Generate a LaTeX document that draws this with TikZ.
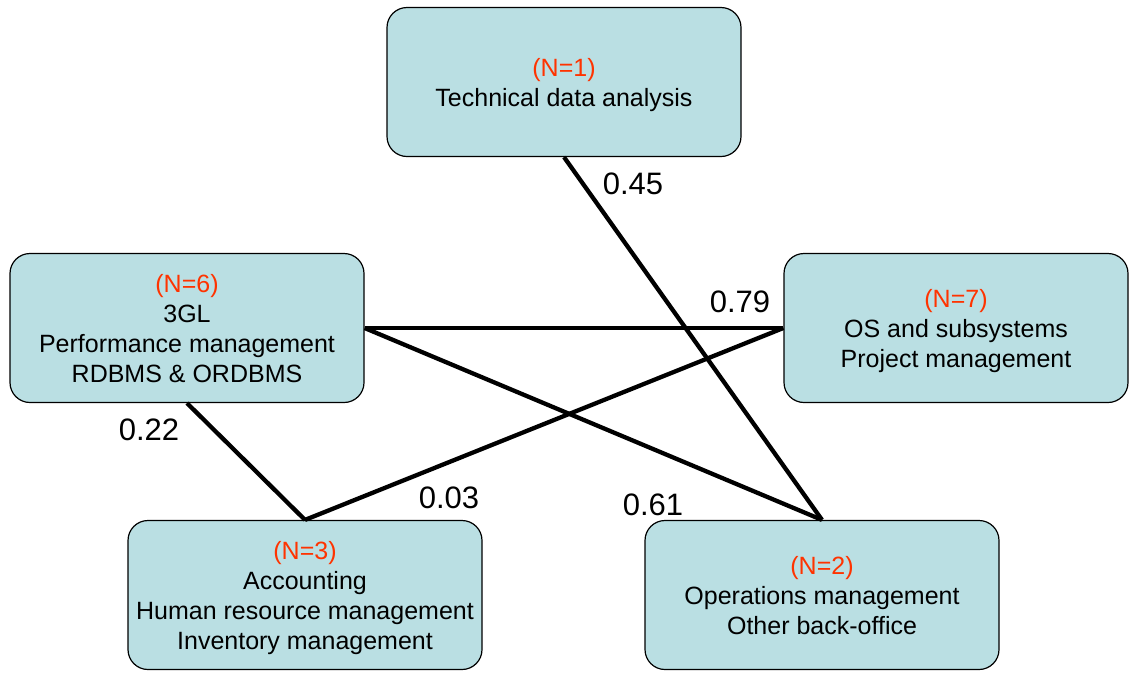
\documentclass[tikz,border=0pt]{standalone}
\usepackage{fontspec}
\setmainfont{Liberation Sans}
\usetikzlibrary{positioning}
\definecolor{boxfill}{HTML}{BADFE3}
\definecolor{countred}{HTML}{FF3300}

\begin{document}
\begin{tikzpicture}[x=1pt,y=-1pt,
    area/.style={draw,line width=1.2pt,rounded corners=20pt,fill=boxfill,minimum width=354pt,minimum height=149pt,align=center,inner sep=0pt,text depth=0pt,font=\fontsize{25}{30}\selectfont},
    weight/.style={inner sep=0pt,font=\fontsize{31}{36}\selectfont},
    link/.style={line width=4.3pt}]
    \useasboundingbox (0,0) rectangle (1129,673);
       \node (tda) [area] at (564,82)   {\textcolor{countred}{(N=1)}\\Technical data analysis};
       \node (gl)  [area] at (187,328)  {\textcolor{countred}{(N=6)}\\3GL\\Performance management\\RDBMS \& ORDBMS};
       \node (os)  [area,minimum width=344pt] at (956,328) {\textcolor{countred}{(N=7)}\\OS and subsystems\\Project management};
       \node (acc) [area] at (305,595)  {\textcolor{countred}{(N=3)}\\Accounting\\Human resource management\\Inventory management};
       \node (ops) [area] at (822,595)  {\textcolor{countred}{(N=2)}\\Operations management\\Other back-office};
        \path[link]
        (tda.south) edge (ops.north)
        (gl.east)   edge (os.west)
        (gl.east)   edge (ops.north)
        (os.west)   edge (acc.north)
        (gl.south)  edge (acc.north);
        \node (w45) [weight] at (633,184) {0.45};
        \node (w79) [weight] at (740,302) {0.79};
        \node (w61) [weight] at (653,505) {0.61};
        \node (w03) [weight] at (449,498) {0.03};
        \node (w22) [weight] at (149,430) {0.22};
    \end{tikzpicture}
\end{document}
